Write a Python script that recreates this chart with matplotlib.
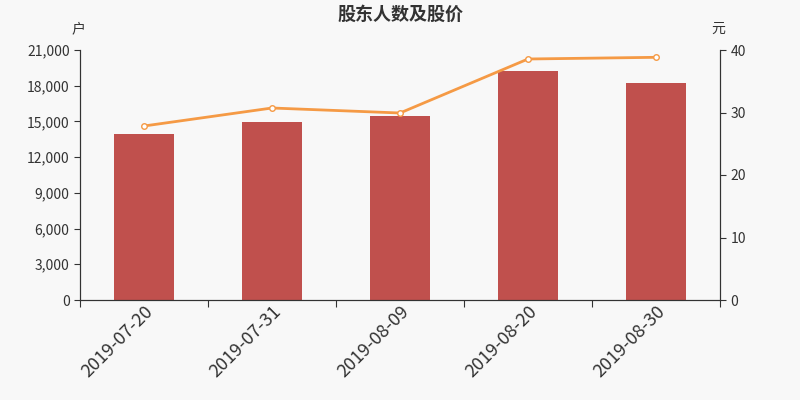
import matplotlib.pyplot as plt
from matplotlib.ticker import FuncFormatter, MultipleLocator

plt.rcParams['font.family'] = ['Noto Sans CJK SC', 'DejaVu Sans']

dates = ['2019-07-20', '2019-07-31', '2019-08-09', '2019-08-20', '2019-08-30']
holders = [13940, 14920, 15450, 19240, 18230]
price = [27.84, 30.72, 29.92, 38.56, 38.83]

bg = '#f8f8f8'
fig = plt.figure(figsize=(8, 4), dpi=100, facecolor=bg)
ax = fig.add_axes([0.1, 0.25, 0.8, 0.625], facecolor=bg)
ax2 = ax.twinx()

x = list(range(len(dates)))
ax.bar(x, holders, width=0.47, color='#c0504d', zorder=2)
ax2.plot(x, price, color='#f59a45', lw=2, marker='o', ms=4,
         markerfacecolor='white', markeredgecolor='#f59a45', markeredgewidth=1, zorder=3)

ax.set_xlim(-0.5, len(dates) - 0.5)
ax.set_ylim(0, 21000)
ax2.set_ylim(0, 40)
ax.yaxis.set_major_locator(MultipleLocator(3000))
ax.yaxis.set_major_formatter(FuncFormatter(lambda v, p: f'{int(v):,}'))
ax2.yaxis.set_major_locator(MultipleLocator(10))

ax.set_xticks([i - 0.5 for i in range(len(dates) + 1)])
ax.set_xticklabels([])
ax.set_xticks(x, minor=True)
ax.set_xticklabels(dates, minor=True, rotation=45, ha='right', rotation_mode='anchor',
                   fontsize=13, color='#333333')
ax.tick_params(axis='x', which='minor', length=0, pad=2)
ax.tick_params(axis='x', which='major', length=5, color='#333333')
ax.tick_params(axis='y', labelsize=10, colors='#333333', length=4)
ax2.tick_params(axis='y', labelsize=10, colors='#333333', length=4)

for a in (ax, ax2):
    a.spines['top'].set_visible(False)
    for s in ('left', 'right', 'bottom'):
        a.spines[s].set_color('#333333')

fig.text(0.5, 0.965, '股东人数及股价', ha='center', va='center', fontsize=13,
         fontweight='bold', color='#333333')
fig.text(0.098, 0.928, '户', ha='center', va='center', fontsize=10, color='#333333')
fig.text(0.898, 0.928, '元', ha='center', va='center', fontsize=10, color='#333333')

fig.savefig('out.png', dpi=100, facecolor=bg)
